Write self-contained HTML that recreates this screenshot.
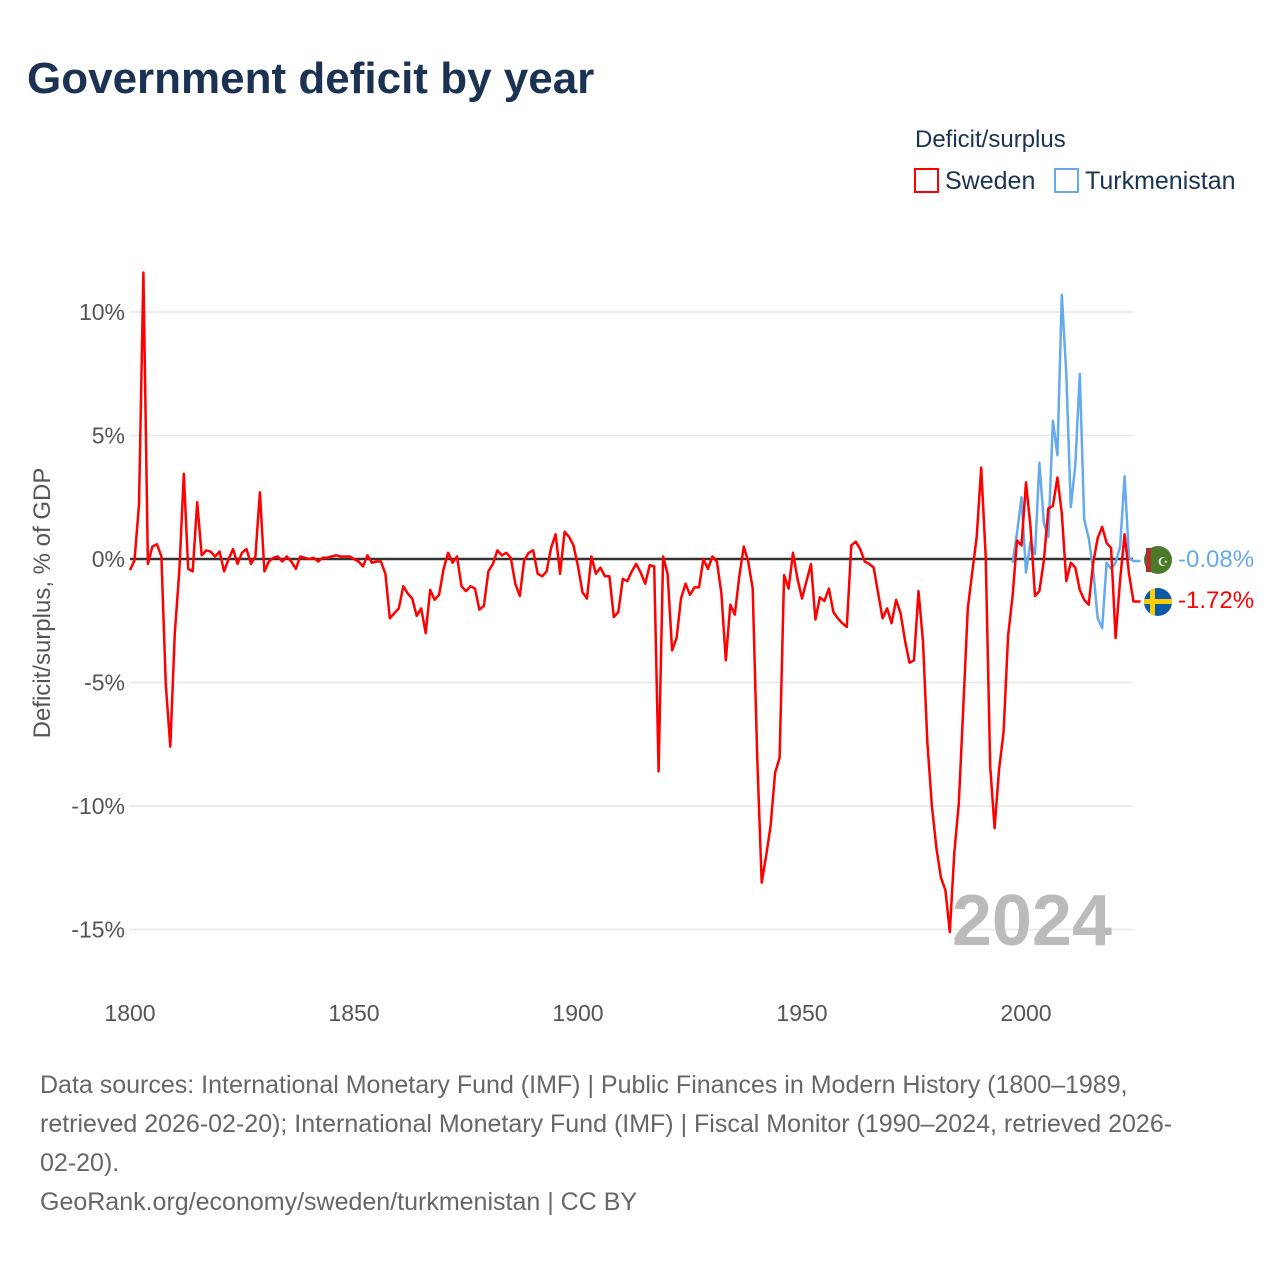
<!DOCTYPE html>
<html><head><meta charset="utf-8"><style>
body{margin:0;background:#fff;font-family:"Liberation Sans",sans-serif}
#w{position:relative;width:1280px;height:1280px;overflow:hidden}
</style></head><body><div id="w">
<svg id="s" width="1280" height="1280" style="position:absolute;left:0;top:0">
<text x="27" y="93" font-size="44" font-weight="bold" fill="#1b3252">Government deficit by year</text>
<text x="915" y="147" font-size="24" fill="#1b3252">Deficit/surplus</text>
<g><rect x="915" y="169" width="23" height="23" fill="none" stroke="#ff0000" stroke-width="2"/><text x="945" y="189" font-size="25" fill="#1b3252">Sweden</text></g>
<g><rect x="1055" y="169" width="23" height="23" fill="none" stroke="#66aaee" stroke-width="2"/><text x="1085" y="189" font-size="25" fill="#1b3252">Turkmenistan</text></g>
<text transform="translate(50,603) rotate(-90)" text-anchor="middle" font-size="24" fill="#555">Deficit/surplus, % of GDP</text>
<g id="grid"></g><g id="xt"></g>
<text x="1112" y="945" text-anchor="end" font-size="72" font-weight="bold" fill="#bbb">2024</text>
<g id="lines"></g>
<g><circle cx="1158" cy="560" r="14" fill="#4a7a2a"/><rect x="1146" y="548" width="5" height="24" fill="#b03030"/><text x="1163" y="566" font-size="12" fill="#fff" text-anchor="middle">☪</text></g>
<g><clipPath id="cs"><circle cx="1158" cy="602" r="14"/></clipPath><g clip-path="url(#cs)"><rect x="1140" y="585" width="40" height="40" fill="#0a5aa8"/><rect x="1150" y="585" width="5" height="40" fill="#fecc02"/><rect x="1140" y="599" width="40" height="5" fill="#fecc02"/></g></g>
<text x="1178" y="567" font-size="24" fill="#66aaee">-0.08%</text>
<text x="1178" y="608" font-size="24" fill="#ff0000">-1.72%</text>
</svg>
<div style="position:absolute;left:40px;top:1066px;width:1230px;font-size:25px;line-height:39px;color:#666;white-space:nowrap">Data sources: International Monetary Fund (IMF) | Public Finances in Modern History (1800–1989,<br>retrieved 2026-02-20); International Monetary Fund (IMF) | Fiscal Monitor (1990–2024, retrieved 2026-<br>02-20).<br>GeoRank.org/economy/sweden/turkmenistan | CC BY</div>
</div>
<script>
const yTicks=[10,5,0,-5,-10,-15];
const xTicks=[1800,1850,1900,1950,2000];
const swedenStart=1800;
const sweden=[-0.45,-0.05,2.2,11.6,-0.2,0.5,0.6,0.1,-5.1,-7.6,-3.0,-0.5,3.45,-0.4,-0.5,2.3,0.15,0.35,0.3,0.1,0.3,-0.5,0,0.4,-0.2,0.25,0.4,-0.2,0.1,2.7,
-0.5,-0.1,0.05,0.1,-0.1,0.1,-0.1,-0.4,0.1,0.05,
0,0.05,-0.1,0.05,0.05,0.1,0.15,0.1,0.1,0.1,
0,-0.1,-0.3,0.15,-0.15,-0.1,-0.1,-0.6,-2.4,-2.2,
-2.0,-1.1,-1.4,-1.6,-2.3,-2.0,-3.0,-1.25,-1.65,-1.45,
-0.4,0.25,-0.15,0.1,-1.1,-1.3,-1.1,-1.2,-2.05,-1.9,
-0.5,-0.2,0.35,0.15,0.25,0.05,-1.0,-1.5,-0.05,0.25,
0.35,-0.6,-0.7,-0.5,0.45,1.0,-0.6,1.1,0.9,0.55,
-0.3,-1.35,-1.6,0.1,-0.6,-0.35,-0.7,-0.7,-2.35,-2.15,
-0.8,-0.9,-0.5,-0.2,-0.55,-1.0,-0.25,-0.3,-8.6,0.1,
-0.6,-3.7,-3.2,-1.6,-1.0,-1.45,-1.15,-1.15,0,-0.4,
0.1,-0.1,-1.4,-4.1,-1.85,-2.25,-0.7,0.5,-0.1,-1.2,
-8,-13.1,-12,-10.8,-8.65,-8.05,-0.65,-1.2,0.25,-0.8,
-1.6,-0.9,-0.2,-2.45,-1.55,-1.7,-1.2,-2.15,-2.4,-2.6,
-2.75,0.55,0.7,0.4,-0.1,-0.2,-0.35,-1.4,-2.4,-2.0,
-2.6,-1.65,-2.2,-3.3,-4.2,-4.1,-1.3,-3.35,-7.45,-10.0,
-11.7,-12.9,-13.4,-15.1,-11.9,-9.9,-6.0,-2.0,-0.55,0.9,
3.7,0.1,-8.4,-10.9,-8.5,-7.0,-3.1,-1.5,0.75,0.55,
3.1,1.3,-1.5,-1.3,-0.05,2.05,2.15,3.3,1.85,-0.9,
-0.15,-0.35,-1.25,-1.65,-1.85,-0.15,0.85,1.3,0.65,0.45,
-3.2,-0.85,1.0,-0.6,-1.72];
const turkStart=1997;
const turkmenistan=[-0.15,1.05,2.5,-0.55,0.7,0.2,3.9,1.45,0.9,5.6,4.2,10.7,7.5,2.1,3.8,7.5,1.6,0.85,-0.45,-2.4,-2.8,-0.15,-0.4,-0.15,0.5,3.35,0.05,-0.08];
const NS="http://www.w3.org/2000/svg";
const X=y=>130+(y-1800)*4.48;
const Y=v=>559-v*24.7;
const grid=document.getElementById('grid'),xt=document.getElementById('xt'),lines=document.getElementById('lines');
function mk(t,a,p){const e=document.createElementNS(NS,t);for(const k in a)e.setAttribute(k,a[k]);p.appendChild(e);return e;}
yTicks.forEach(v=>{
 const l=mk('line',{x1:130,x2:1133,y1:Y(v),y2:Y(v),stroke:v===0?'#333':'#e6e6e6','stroke-width':v===0?2.5:1.5},grid);
 
 
 const t=mk('text',{x:125,y:Y(v)+8,'text-anchor':'end','font-size':23,fill:'#555'},grid);
 t.textContent=v+'%';
 
 
});
xTicks.forEach(y=>{
 const t=mk('text',{x:X(y),y:1021,'text-anchor':'middle','font-size':23,fill:'#555'},xt);
 t.textContent=y;
 
 
});
function series(arr,start,col,name){
 const pts=arr.map((v,i)=>X(start+i).toFixed(1)+','+Y(v).toFixed(1));
 const last=arr[arr.length-1];
 pts.push((X(start+arr.length-1)+7).toFixed(1)+','+Y(last).toFixed(1));
 const p=mk('polyline',{points:pts.join(' '),fill:'none',stroke:col,'stroke-width':2.5,'stroke-linejoin':'round'},lines);
 
 
}
series(turkmenistan,turkStart,'#66aaee','turkmenistan-line');
series(sweden,swedenStart,'#ff0000','sweden-line');
</script>
</body></html>
